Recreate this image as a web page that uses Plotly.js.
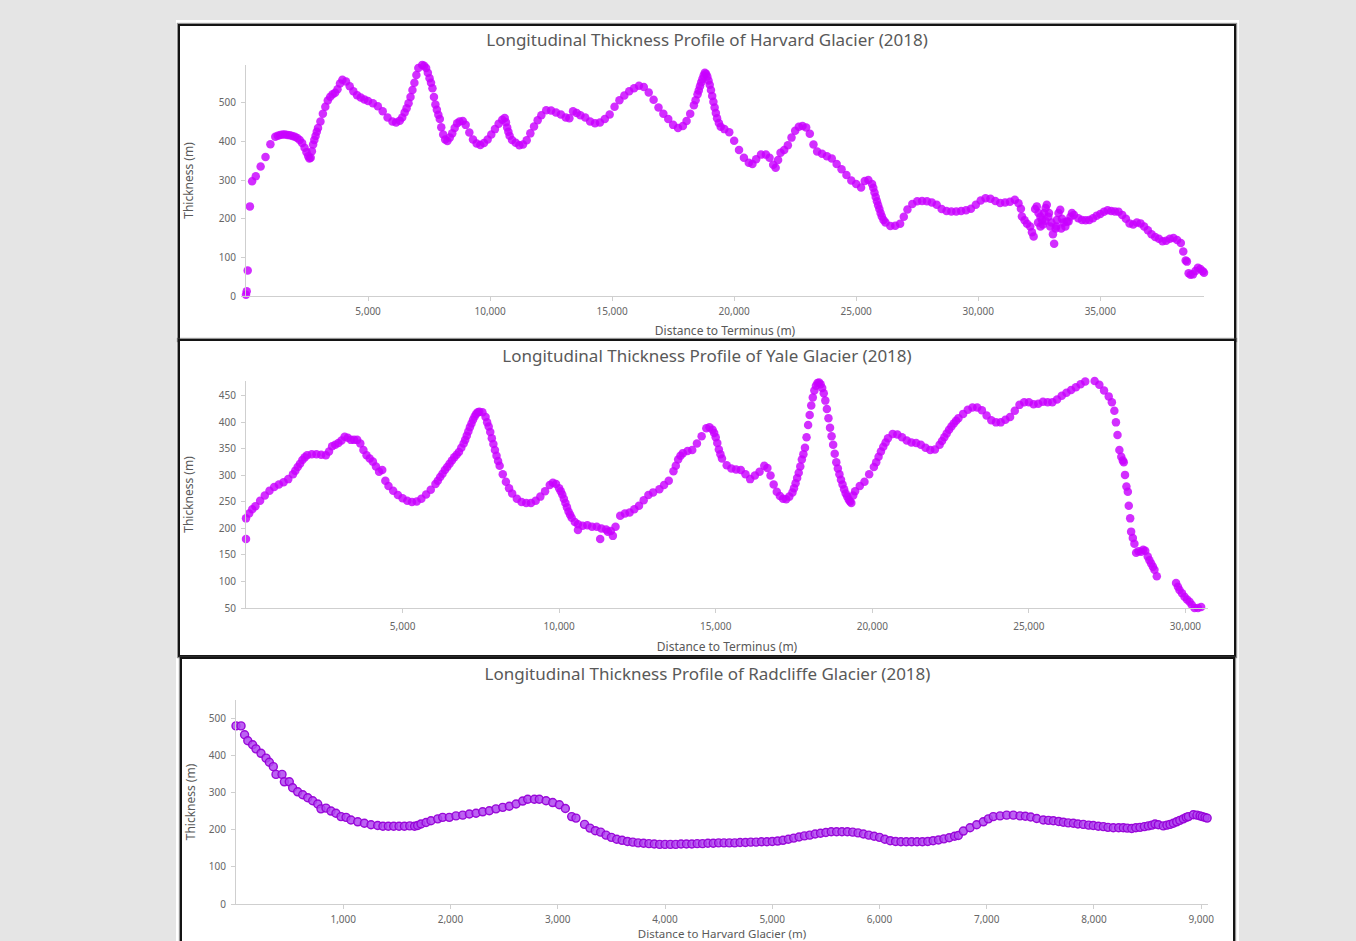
<!DOCTYPE html>
<html>
<head>
<meta charset="utf-8">
<script src="https://cdn.plot.ly/plotly-3.0.1.min.js"></script>
<style>
  html, body { margin:0; padding:0; width:1356px; height:941px; overflow:hidden; background:#e5e5e5; font-family:"Noto Sans", sans-serif; }
  #sheet { position:absolute; left:176px; top:20px; width:1063px; height:960px; background:#ffffff; }
  .panel { position:absolute; box-sizing:border-box; border:2px solid #141414; background:#fff; box-shadow:0 0 1px 1px rgba(60,60,60,0.55); }
  #p1 { left:178px; top:24px; width:1058px; height:317px; }
  #p2 { left:178px; top:339px; width:1058px; height:318px; }
  #p3 { left:180px; top:657px; width:1055px; height:320px; }
</style>
</head>
<body>
<div id="sheet"></div>
<div class="panel" id="p1"><div id="c1"></div></div>
<div class="panel" id="p2"><div id="c2"></div></div>
<div class="panel" id="p3"><div id="c3"></div></div>
<script>
// ---------------- Data ----------------
const harvardTitle = "Longitudinal Thickness Profile of Harvard Glacier (2018)";
const yaleTitle = "Longitudinal Thickness Profile of Yale Glacier (2018)";
const radcliffeTitle = "Longitudinal Thickness Profile of Radcliffe Glacier (2018)";

const harvardX = [
  0,30,70,160,250,400,600,800,1000,1200,
  1400,1600,1800,2000,2200,2400,2550,2650,2750,2850,
  2950,3050,3150,3250,3350,3450,3550,3650,3750,3850,
  3950,4100,4250,4400,4550,4700,4850,5000,5200,5400,
  5600,5800,6000,6150,6300,6400,6500,6580,6660,6740,
  6820,6900,6980,7060,7140,7220,7300,7380,7450,7520,
  7580,7640,7700,7760,7820,7880,7940,8000,8080,8160,
  8250,8350,8450,8550,8650,8750,8880,9000,9150,9300,
  9450,9600,9750,9900,10050,10200,10350,10500,10600,10700,
  10800,10900,11050,11200,11350,11500,11650,11800,11950,12100,
  12300,12500,12700,12900,13100,13250,13400,13550,13700,13900,
  14100,14300,14500,14700,14900,15100,15300,15500,15700,15900,
  16100,16300,16500,16700,16900,17100,17300,17500,17700,17900,
  18050,18200,18350,18500,18600,18700,18800,18900,19000,19100,
  19200,19300,19450,19600,19800,20000,20200,20400,20600,20750,
  20900,21100,21300,21450,21600,21700,21800,21900,22050,22200,
  22350,22500,22650,22800,22950,23100,23250,23400,23600,23800,
  24000,24200,24400,24600,24800,25000,25200,25350,25500,25650,
  25750,25850,25950,26050,26200,26400,26600,26800,26950,27100,
  27300,27500,27700,27900,28100,28300,28500,28700,28900,29100,
  29300,29500,29700,29900,30100,30300,30500,30700,30900,31100,
  31300,31500,31650,31750,31790,31900,32000,32130,32200,32270,
  32330,32400,32450,32470,32550,32550,32610,32650,32700,32750,
  32760,32810,32870,32900,32950,33000,33060,33110,33170,33200,
  33220,33290,33360,33400,33430,33500,33570,33640,33700,33780,
  33840,33920,34100,34250,34400,34550,34700,34850,35000,35150,
  35300,35450,35600,35750,35900,36050,36200,36350,36500,36650,
  36800,36950,37100,37250,37400,37550,37700,37850,38000,38150,
  38300,38400,38500,38550,38620,38700,38800,38900,39000,39100,
  39200,39250,
  2480,2600,2700,2800,2900,10650,10750,18420,18550,18650,
  18750,18850,18950,19050,19150,19250,19375,25700,25800,25900,
  26000,26120,1300,1500,1700,1900,2100,2300
];
const harvardThickness = [
  3,12,66,232,297,310,335,360,393,412,
  417,418,416,412,404,384,362,358,392,414,
  435,452,472,490,506,516,522,526,535,550,
  560,555,543,530,520,514,509,505,499,491,
  478,462,452,449,454,462,475,486,499,515,
  533,552,572,590,599,598,596,590,578,564,
  552,538,515,496,482,469,458,437,418,405,
  401,410,421,435,447,452,453,443,423,405,
  395,391,396,405,418,432,446,456,461,436,
  415,404,397,390,392,403,421,439,455,468,
  481,480,475,470,462,460,478,474,468,462,
  452,447,449,458,470,490,507,519,530,538,
  544,541,527,508,488,472,458,443,435,440,
  453,472,494,522,543,562,578,568,547,518,
  488,460,438,432,424,402,378,358,345,342,
  354,366,366,358,340,332,352,371,378,390,
  410,428,438,440,436,420,392,374,368,362,
  356,342,328,313,299,290,281,298,300,290,
  268,245,225,206,190,181,182,187,205,224,
  238,245,246,245,242,236,225,220,219,219,
  220,222,226,236,247,253,252,246,241,242,
  244,249,240,226,206,196,187,180,165,154,
  225,232,190,215,205,180,197,185,215,195,
  228,236,205,215,180,190,160,135,175,180,
  197,215,223,175,200,190,180,193,193,205,
  215,210,201,197,196,197,201,208,212,218,
  222,220,219,218,210,200,188,185,190,188,
  180,170,160,153,148,142,143,148,150,145,
  137,115,92,89,59,55,56,65,73,70,
  64,60,
  372,356,375,404,425,450,425,507,532,553,
  571,575,558,533,503,474,448,280,256,235,
  215,197,415,418,417,414,409,396
];

const yaleX = [
  0,0,100,200,300,450,600,750,900,1050,
  1200,1350,1500,1650,1800,1950,2100,2250,2400,2550,
  2650,2750,2850,2950,3050,3150,3250,3350,3450,3550,
  3650,3750,3850,3950,4050,4150,4250,4350,4450,4550,
  4700,4850,5000,5150,5300,5450,5600,5750,5900,6050,
  6200,6350,6500,6650,6800,6950,7050,7150,7250,7350,
  7450,7550,7650,7700,7750,7800,7850,7900,7950,8000,
  8050,8100,8200,8300,8400,8500,8650,8800,8950,9100,
  9250,9400,9550,9700,9800,9900,10000,10100,10200,10300,
  10400,10500,10600,10600,10750,10900,11050,11200,11310,11350,
  11500,11555,11650,11715,11800,11950,12100,12250,12400,12550,
  12700,12850,13000,13200,13350,13500,13650,13800,13950,14100,
  14250,14400,14550,14700,14800,14900,15000,15100,15200,15350,
  15500,15650,15800,15950,16100,16250,16400,16550,16650,16750,
  16850,16950,17050,17150,17250,17350,17450,17550,17650,17750,
  17850,17950,18050,18150,18250,18350,18450,18550,18650,18750,
  18850,18950,19050,19150,19250,19330,19450,19600,19750,19900,
  20050,20200,20350,20500,20650,20800,20950,21100,21250,21400,
  21550,21700,21850,22000,22150,22300,22450,22600,22750,22900,
  23050,23200,23350,23500,23650,23800,23950,24100,24250,24400,
  24550,24700,24850,25000,25150,25300,25450,25600,25750,25900,
  26050,26200,26350,26500,26650,26800,26950,27100,27250,27400,
  27550,27650,27730,27780,27830,27890,27950,28000,28030,28070,
  28115,28160,28190,28235,28265,28320,28370,28425,28500,28585,
  28650,28715,28795,28850,28905,28960,29010,29085,29700,29760,
  29810,29890,29970,30050,30130,30200,30290,30400,30500,30575,
  7000,7100,7200,7300,7400,13725,13875,14950,15050,15150,
  17500,17600,17700,17800,17900,18000,18100,18200,18300,18400,
  18500,18600,18700,18800,18900,19000,19100,19200,19290,19390,
  20125,20275,20425,10050,10150,10250,10350,22225,22375,22525,
  22675,6125,6275,6425,6575,6725,6875,1575,1725,1875
];
const yaleThickness = [
  180,219,228,236,242,252,262,271,278,283,
  287,293,302,316,329,338,340,340,339,338,
  345,355,358,361,366,373,371,367,367,367,
  360,348,338,332,326,317,307,310,290,280,
  271,263,257,252,250,251,256,264,273,284,
  297,310,322,334,344,360,375,391,405,416,
  420,419,410,400,392,382,370,359,348,337,
  327,318,302,288,276,266,256,250,248,248,
  252,260,270,282,286,284,276,264,248,232,
  220,212,208,197,205,206,203,203,180,200,
  198,194,195,186,203,224,228,230,236,243,
  253,263,268,274,282,290,308,330,342,346,
  348,360,374,389,391,386,372,349,332,319,
  313,311,310,302,293,300,307,318,314,300,
  283,269,261,256,255,260,268,285,305,330,
  352,395,432,460,474,472,455,425,390,358,
  325,302,283,266,254,248,270,280,288,302,
  316,335,354,370,378,377,372,366,362,361,
  358,352,348,349,358,372,386,398,408,416,
  424,428,428,423,413,404,400,400,405,410,
  422,433,438,438,434,435,439,438,438,443,
  450,456,461,466,472,477,479,478,471,460,
  449,438,422,400,376,348,335,328,325,301,
  279,269,243,219,194,182,171,154,157,156,
  160,158,147,140,134,128,122,110,97,90,
  84,78,71,66,62,56,50,50,52,46,
  367,383,398,411,419,318,337,380,361,340,
  276,295,317,340,372,414,447,469,475,465,
  441,408,374,341,313,292,274,260,251,262,
  325,345,362,270,256,240,226,365,379,392,
  403,290,303,316,328,339,352,309,322,334
];

const radcliffeX = [
  0,47,80,110,155,186,233,280,311,348,
  373,429,451,497,528,575,622,669,715,762,
  792,839,886,932,979,1026,1072,1135,1197,1259,
  1321,1370,1420,1470,1520,1570,1620,1665,1694,1725,
  1772,1818,1881,1927,1989,2051,2114,2176,2238,2300,
  2362,2424,2487,2548,2611,2673,2720,2782,2828,2891,
  2953,3015,3071,3130,3170,3250,3300,3350,3400,3450,
  3500,3550,3600,3650,3700,3750,3800,3850,3900,3950,
  4000,4050,4100,4150,4200,4250,4300,4350,4400,4450,
  4500,4550,4600,4650,4700,4750,4800,4850,4900,4950,
  5000,5050,5100,5150,5200,5250,5300,5350,5400,5450,
  5500,5550,5600,5650,5700,5750,5800,5850,5900,5950,
  6000,6050,6100,6150,6200,6250,6300,6350,6400,6450,
  6500,6550,6600,6650,6700,6735,6782,6844,6906,6968,
  7015,7061,7124,7186,7248,7310,7360,7410,7466,7527,
  7575,7621,7670,7714,7760,7807,7850,7900,7950,7993,
  8040,8087,8130,8180,8230,8273,8310,8352,8390,8429,
  8470,8507,8540,8569,8600,8646,8680,8709,8740,8771,
  8800,8833,8860,8880,8926,8960,8989,9010,9035,9055,
  9075
];
const radcliffeThickness = [
  481,481,457,441,430,419,407,394,383,371,
  350,350,330,330,314,303,295,287,279,270,
  257,259,251,245,236,234,227,222,218,214,
  212,210,210,210,210,210,211,210,212,216,
  220,225,230,234,234,238,240,243,245,249,
  252,257,261,264,270,278,283,283,283,279,
  274,268,258,236,232,215,205,198,194,186,
  180,175,172,169,167,165,164,163,162,161,
  161,161,161,162,162,162,163,163,164,164,
  165,165,165,165,166,166,167,167,168,168,
  169,170,172,175,178,181,184,186,189,191,
  193,195,195,195,195,194,192,189,186,183,
  180,175,171,169,168,168,168,168,168,169,
  171,173,176,179,183,185,197,206,214,222,
  230,236,238,240,240,238,237,235,231,227,
  226,225,223,221,219,218,216,215,213,212,
  210,209,207,206,206,206,205,204,206,207,
  209,211,213,216,214,211,213,215,218,222,
  226,230,234,236,241,240,238,236,234,232,
  231
];

const harvardXTicks = [5000,10000,15000,20000,25000,30000,35000];
const harvardYTicks = [0,100,200,300,400,500];
const yaleXTicks = [5000,10000,15000,20000,25000,30000];
const yaleYTicks = [50,100,150,200,250,300,350,400,450];
const radcliffeXTicks = [1000,2000,3000,4000,5000,6000,7000,8000,9000];
const radcliffeYTicks = [0,100,200,300,400,500];

const yTitle = "Thickness (m)";
const xTitleTerminus = "Distance to Terminus (m)";
const xTitleHarvard = "Distance to Harvard Glacier (m)";

// ---------------- Drawing ----------------
const FONT = '"Noto Sans", "Open Sans", sans-serif';
const AXIS_GRAY = '#cfcfcf';

function drawPanel(id, cfg) {
  const trace = {
    type: 'scatter', mode: 'markers',
    x: cfg.x, y: cfg.y,
    cliponaxis: false,
    hoverinfo: 'x+y',
    marker: cfg.marker
  };
  const layout = {
    width: cfg.width, height: cfg.height,
    margin: cfg.margin,
    paper_bgcolor: '#ffffff', plot_bgcolor: '#ffffff',
    showlegend: false,
    font: {family: FONT, color: '#666666', size: 10},
    title: {
      text: cfg.title, x: 0.5, xanchor: 'center', xref: 'container',
      y: 1 - cfg.titleTop / cfg.height, yref: 'container', yanchor: 'middle',
      font: {family: FONT, size: 17, color: '#595959'}
    },
    xaxis: {
      range: cfg.xRange, tickvals: cfg.xTicks, tickformat: ',d',
      showgrid: false, zeroline: false, showline: true, linecolor: AXIS_GRAY, linewidth: 1,
      ticks: 'outside', ticklen: 4, tickcolor: AXIS_GRAY, ticklabelstandoff: cfg.xLabelGap,
      tickfont: {family: FONT, size: 10, color: '#666666'},
      title: {text: cfg.xTitle, standoff: cfg.xStandoff, font: {family: FONT, size: cfg.xTitleSize, color: '#595959'}},
      automargin: false, fixedrange: true
    },
    yaxis: {
      range: cfg.yRange, tickvals: cfg.yTicks,
      showgrid: false, zeroline: false, showline: true, linecolor: AXIS_GRAY, linewidth: 1,
      ticks: 'outside', ticklen: 4, tickcolor: AXIS_GRAY, ticklabelstandoff: 3,
      tickfont: {family: FONT, size: 10, color: '#666666'},
      title: {text: yTitle, standoff: cfg.yStandoff, font: {family: FONT, size: 12, color: '#595959'}},
      automargin: false, fixedrange: true
    }
  };
  Plotly.newPlot(id, [trace], layout, {displayModeBar: false, staticPlot: true});
}

const brightMarker = {size: 8.5, color: 'rgba(200,0,255,0.82)', line: {width: 0}};
const purpleMarker = {size: 8, color: 'rgba(176,70,240,0.85)', line: {width: 1.4, color: 'rgba(150,0,215,0.95)'}};

drawPanel('c1', {
  x: harvardX, y: harvardThickness, marker: brightMarker,
  width: 1054, height: 313, titleTop: 14,
  margin: {l: 66, r: 30, t: 39, b: 43, pad: 0},
  title: harvardTitle, xTitle: xTitleTerminus, xTicks: harvardXTicks, yTicks: harvardYTicks,
  xRange: [0, 39250], yRange: [0, 598], xLabelGap: 2, xStandoff: 10, yStandoff: 22, xTitleSize: 12
});
drawPanel('c2', {
  x: yaleX, y: yaleThickness, marker: brightMarker,
  width: 1054, height: 314, titleTop: 15,
  margin: {l: 66, r: 26, t: 40, b: 47, pad: 0},
  title: yaleTitle, xTitle: xTitleTerminus, xTicks: yaleXTicks, yTicks: yaleYTicks,
  xRange: [0, 30720], yRange: [50, 478], xLabelGap: 5, xStandoff: 11, yStandoff: 22, xTitleSize: 12
});
drawPanel('c3', {
  x: radcliffeX, y: radcliffeThickness, marker: purpleMarker,
  width: 1051, height: 316, titleTop: 15,
  margin: {l: 54, r: 25, t: 41, b: 71, pad: 0},
  title: radcliffeTitle, xTitle: xTitleHarvard, xTicks: radcliffeXTicks, yTicks: radcliffeYTicks,
  xRange: [0, 9063], yRange: [0, 551], xLabelGap: 2, xStandoff: 0, yStandoff: 10, xTitleSize: 11.5
});
</script>
</body>
</html>
